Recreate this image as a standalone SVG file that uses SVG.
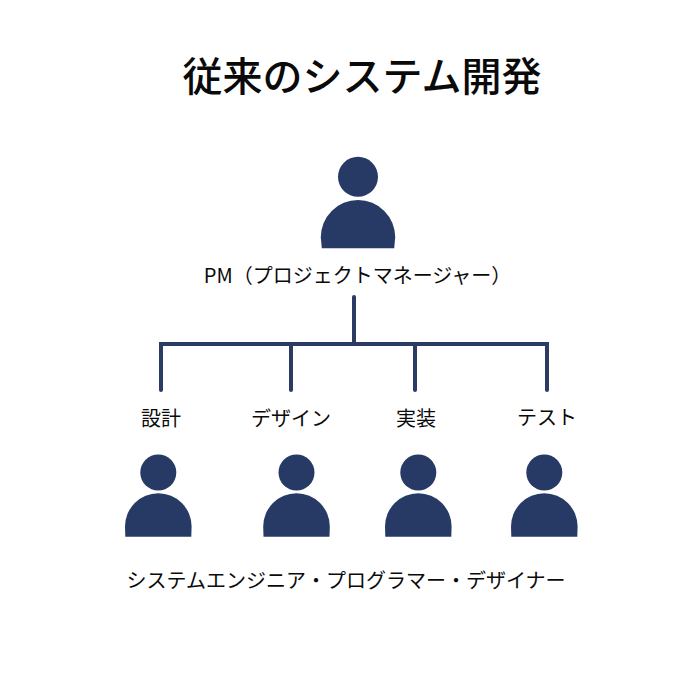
<svg xmlns="http://www.w3.org/2000/svg" width="694" height="693" viewBox="0 0 694 693">
<defs>
<style>
text{font-family:"Noto Sans CJK JP","Noto Sans",sans-serif;fill:#0a0a0a;text-anchor:middle}
.t{font-size:40px;font-weight:500}
.l{font-size:20px}
.c{fill:none;stroke:#2a3c63;stroke-width:4;stroke-linecap:round}
.p{fill:#273a66}
</style>
<g id="person"><circle cx="0" cy="-64.300" r="18"/><path d="M-33 0L-33.300 -10.200A33.300 33.300 0 0 1 33.300 -10.200L33 0Z"/></g>
<g id="personL"><circle cx="0" cy="-71.500" r="20"/><path d="M-36.200 0L-37.200 -11.100A37.200 37.200 0 0 1 37.200 -11.100L36.200 0Z"/></g>
</defs>
<rect width="694" height="693" fill="#fff"/>
<g id="title"><text class="t" x="362" y="90.500">従来のシステム開発</text></g>
<g id="connectors"><path class="c" d="M354 297V344M161 390V344H547V390M291 344V390M415 344V390"/></g>
<g id="pm"><use href="#personL" class="p" x="358" y="248.300"/><text class="l" x="357.500" y="283">PM（プロジェクトマネージャー）</text></g>
<g id="n1"><use href="#person" class="p" x="158.300" y="536.800"/><text class="l" x="161" y="426">設計</text></g>
<g id="n2"><use href="#person" class="p" x="296.500" y="536.800"/><text class="l" x="291" y="426">デザイン</text></g>
<g id="n3"><use href="#person" class="p" x="418.300" y="536.800"/><text class="l" x="416" y="426">実装</text></g>
<g id="n4"><use href="#person" class="p" x="544.300" y="536.800"/><text class="l" x="547" y="425">テスト</text></g>
<g id="roles"><text class="l" x="346" y="588">システムエンジニア・プログラマー・デザイナー</text></g>
</svg>
